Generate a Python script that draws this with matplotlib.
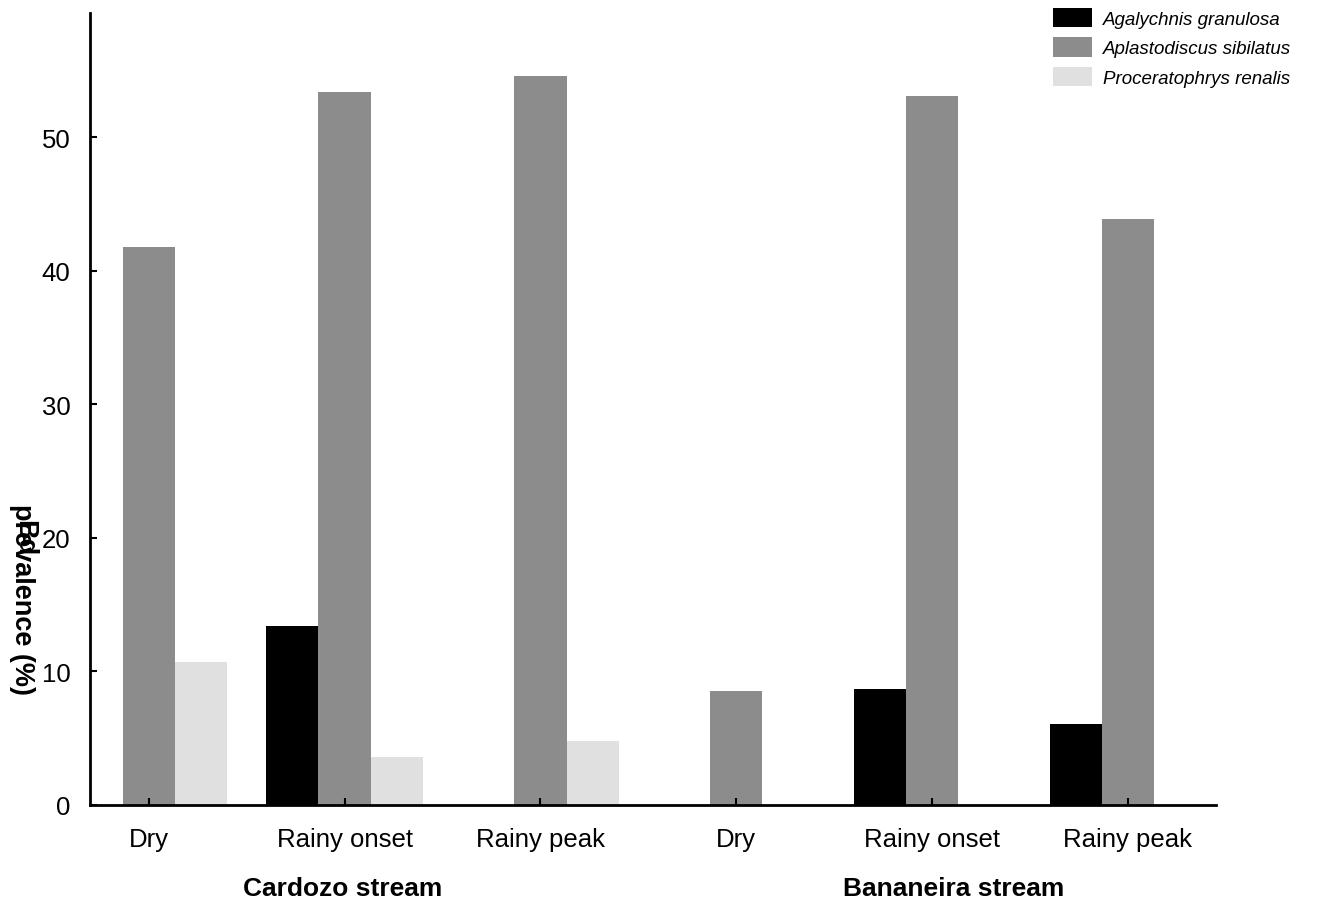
import numpy as np
import matplotlib
matplotlib.use("Agg")
import matplotlib.pyplot as plt

plt.rcParams['font.family'] = ['Liberation Sans', 'DejaVu Sans']

seasons = ["Dry", "Rainy onset", "Rainy peak", "Dry", "Rainy onset", "Rainy peak"]
streams = ["Cardozo stream", "Bananeira stream"]
species = ["Agalychnis granulosa", "Aplastodiscus sibilatus", "Proceratophrys renalis"]

agalychnis = [0, 13.4, 0, 0, 8.7, 6.1]
aplastodiscus = [41.8, 53.4, 54.6, 8.5, 53.1, 43.9]
proceratophrys = [10.7, 3.6, 4.8, 0, 0, 0]

colors = ["#000000", "#8c8c8c", "#e0e0e0"]

fig = plt.figure(figsize=(13.17, 9.04), dpi=100)
ax = fig.add_axes([90 / 1317, 98 / 904, (1216 - 90) / 1317, (806 - 14) / 904])

x = np.arange(len(seasons))
w = 0.8 / 3
for i, (vals, c, name) in enumerate(zip([agalychnis, aplastodiscus, proceratophrys], colors, species)):
    ax.bar(x + (i - 1) * w, vals, w, color=c, label=name, linewidth=0)

ax.set_xlim(-0.3, 5.45)
ax.set_ylim(0, 59.3)
ax.set_yticks([0, 10, 20, 30, 40, 50])
ax.set_xticks(x)
ax.set_xticklabels(seasons, fontsize=18.5)
ax.tick_params(axis='y', labelsize=18.5, length=5, width=1.5, direction='in', pad=14)
ax.tick_params(axis='x', length=5, width=1.5, direction='in', pad=16)
for s in ["top", "right"]:
    ax.spines[s].set_visible(False)
for s in ["left", "bottom"]:
    ax.spines[s].set_linewidth(2)

# stream names under the season labels
ax.text(0.99, -0.105, streams[0], transform=ax.get_xaxis_transform(), ha='center', va='center',
        fontsize=19, fontweight='bold')
ax.text(4.11, -0.105, streams[1], transform=ax.get_xaxis_transform(), ha='center', va='center',
        fontsize=19, fontweight='bold')

# y label (the two parts overlap in the original too)
fig.text(22 / 1317, 1 - 600 / 904, "prevalence (%)", rotation=270, ha='center', va='center',
         fontsize=19.5, fontweight='bold')
fig.text(24 / 1317, 1 - 538 / 904, "Bd", rotation=270, ha='center', va='center',
         fontsize=19.5, fontweight='bold')

leg = fig.legend(loc='upper left', bbox_to_anchor=(1053 / 1317, 1 - 9 / 904), frameon=False,
                 prop={'style': 'italic', 'size': 13.5}, handlelength=2.1, handleheight=1.2,
                 labelspacing=0.5, handletextpad=0.55, borderpad=0, borderaxespad=0)

fig.savefig("out.png", dpi=100)
